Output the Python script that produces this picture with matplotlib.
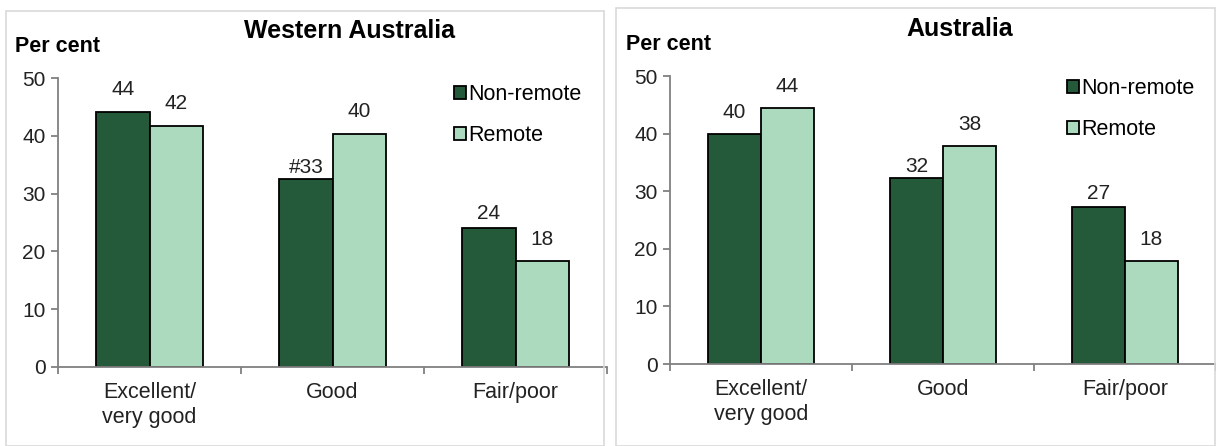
import numpy as np
import matplotlib.pyplot as plt
from matplotlib.patches import Rectangle

plt.rcParams['font.family'] = ['Liberation Sans', 'DejaVu Sans']

categories = ['Excellent/\nvery good', 'Good', 'Fair/poor']
series = ['Non-remote', 'Remote']

wa_nonremote = [44.1, 32.5, 24.1]
wa_remote = [41.7, 40.3, 18.3]
wa_nonremote_labels = ['44', '#33', '24']
wa_remote_labels = ['42', '40', '18']

aus_nonremote = [40.0, 32.3, 27.2]
aus_remote = [44.5, 37.9, 17.8]
aus_nonremote_labels = ['40', '32', '27']
aus_remote_labels = ['44', '38', '18']

# label gap above each bar (points)
wa_gaps = ([12, 4.5, 6.5], [12, 12.5, 11.5])
aus_gaps = ([11.5, 4.5, 6], [11.5, 11.5, 11.5])

dark = '#245a3a'
light = '#acdabf'
txt = '#222222'

W, H = 1216, 446
fig = plt.figure(figsize=(W / 100, H / 100), dpi=100)

# panel frames
fig.add_artist(Rectangle((6 / W, 0), 598 / W, 1 - 11 / H, transform=fig.transFigure,
                         fill=False, ec='#d9d9d9', lw=1.2))
fig.add_artist(Rectangle((616 / W, 0), 599 / W, 1 - 8 / H, transform=fig.transFigure,
                         fill=False, ec='#d9d9d9', lw=1.2))


def panel(rect, nonremote, remote, lab_nr, lab_r, gaps, title, title_xy, pc_xy, leg_xy):
    ax = fig.add_axes(rect)
    x = np.arange(len(categories))
    w = 0.29
    ax.bar(x - w / 2, nonremote, w, color=dark, ec='black', lw=1.3, label=series[0])
    ax.bar(x + w / 2, remote, w, color=light, ec='black', lw=1.3, label=series[1])
    for xs, vals, labs, gp in [(x - w / 2, nonremote, lab_nr, gaps[0]),
                               (x + w / 2, remote, lab_r, gaps[1])]:
        for xi, v, lb, g in zip(xs, vals, labs, gp):
            ax.annotate(lb, (xi, v), xytext=(0, g), textcoords='offset points',
                        ha='center', va='baseline', fontsize=15, color=txt)
    ax.set_xlim(-0.5, 2.5)
    ax.set_ylim(0, 50)
    ax.set_yticks(range(0, 51, 10))
    ax.set_xticks(x)
    ax.set_xticklabels(categories, fontsize=15.5, color=txt, linespacing=1.25)
    ax.set_xticks([-0.5, 0.5, 1.5, 2.5], minor=True)
    ax.tick_params(axis='x', which='major', length=0, pad=11)
    ax.tick_params(axis='x', which='minor', length=5, color='#808080', width=1.3, direction='out')
    ax.tick_params(axis='y', length=5, color='#808080', width=1.3, labelsize=15,
                   labelcolor=txt, pad=4)
    for s in ['top', 'right']:
        ax.spines[s].set_visible(False)
    for s in ['left', 'bottom']:
        ax.spines[s].set_color('#808080')
        ax.spines[s].set_linewidth(1.3)
    fig.text(title_xy[0] / W, 1 - title_xy[1] / H, title, fontsize=18, fontweight='bold',
             ha='center', va='center')
    fig.text(pc_xy[0] / W, 1 - pc_xy[1] / H, 'Per cent', fontsize=15.5, fontweight='bold',
             ha='left', va='center')
    ax.legend(loc='upper left', bbox_to_anchor=(leg_xy[0] / W, 1 - leg_xy[1] / H),
              bbox_transform=fig.transFigure, frameon=False, fontsize=15.5,
              handlelength=0.55, handleheight=0.55, handletextpad=0.12, labelspacing=0.95,
              borderpad=0, borderaxespad=0)
    return ax


panel([58 / W, 1 - 367 / H, 549 / W, 289 / H], wa_nonremote, wa_remote,
      wa_nonremote_labels, wa_remote_labels, wa_gaps, 'Western Australia', (350, 31), (15, 47),
      (454, 84))
panel([670 / W, 1 - 364 / H, 546 / W, 288 / H], aus_nonremote, aus_remote,
      aus_nonremote_labels, aus_remote_labels, aus_gaps, 'Australia', (960, 29), (626, 45),
      (1067, 78))

fig.savefig('out.png', dpi=100)
